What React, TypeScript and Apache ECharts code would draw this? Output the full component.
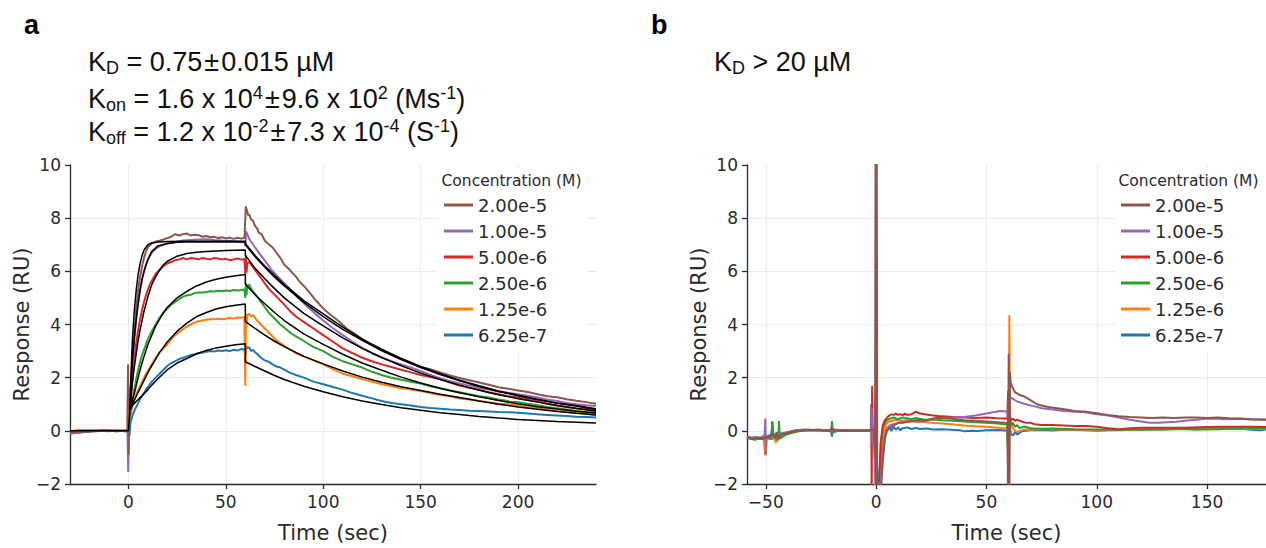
import React, { useEffect, useRef } from 'react';
import * as echarts from 'echarts';

// ---------- labels ----------
const NAMES = ['2.00e-5', '1.00e-5', '5.00e-6', '2.50e-6', '1.25e-6', '6.25e-7'];
const COLORS = ['#8c564b', '#9467bd', '#d62728', '#2ca02c', '#ff7f0e', '#1f77b4'];
const X_TICKS_A = [0, 50, 100, 150, 200];
const X_TICKS_B = [-50, 0, 50, 100, 150];
const LEGEND_TITLE = 'Concentration (M)';

// ---------- panel a : measured sensorgrams [time, response] ----------
const A_BROWN = [[-30,-0.08],[-27,-0.05],[-24,-0.03],[-21,-0.04],[-18,0.01],[-15,-0.01],[-12,0.02],[-9,0.0],[-6,-0.02],[-3,0.01],[-0.5,0.0],[-0.2,2.5],[0.1,-0.9],[0.4,1.0],[1,1.4],[2,2.6],[3,3.6],[4,4.6],[5,5.3],[6,5.8],[7,6.2],[8,6.5],[9,6.75],[10,6.9],[12,7.05],[14,7.12],[16,7.15],[18,7.2],[20,7.25],[22,7.3],[24,7.4],[26,7.35],[28,7.4],[30,7.42],[32,7.35],[34,7.38],[36,7.36],[38,7.3],[40,7.33],[42,7.28],[44,7.3],[46,7.25],[48,7.28],[50,7.24],[52,7.27],[54,7.22],[56,7.26],[58,7.23],[59.6,7.26],[60.2,8.45],[60.8,8.3],[61.5,8.1],[62,8.15],[63,7.95],[64,7.9],[65,7.7],[66,7.62],[67,7.45],[68,7.42],[69,7.3],[70,7.15],[72,7.02],[74,6.9],[76,6.7],[78,6.5],[80,6.25],[82,6.12],[84,5.95],[86,5.8],[88,5.6],[90,5.45],[93,5.2],[96,4.92],[100,4.6],[104,4.35],[108,4.12],[112,3.85],[116,3.66],[120,3.45],[125,3.22],[130,3.02],[135,2.86],[140,2.7],[145,2.56],[150,2.4],[155,2.32],[160,2.2],[165,2.08],[170,1.99],[175,1.9],[180,1.82],[185,1.73],[190,1.64],[195,1.58],[200,1.52],[205,1.46],[210,1.38],[215,1.3],[220,1.26],[225,1.19],[230,1.13],[235,1.08],[240,1.02]];
const A_PURPLE = [[-30,-0.1],[-27,-0.07],[-24,-0.05],[-21,-0.03],[-18,-0.02],[-15,0.0],[-12,-0.01],[-9,0.01],[-6,0.0],[-3,-0.01],[-0.5,0.0],[-0.1,-1.55],[0.3,0.4],[1,1.2],[2,2.4],[3,3.4],[4,4.2],[5,4.8],[6,5.3],[7,5.7],[8,6.0],[9,6.25],[10,6.45],[12,6.7],[14,6.85],[16,6.95],[18,7.0],[20,7.05],[24,7.1],[28,7.16],[32,7.18],[36,7.2],[40,7.21],[44,7.18],[48,7.16],[52,7.15],[56,7.12],[59.6,7.1],[60,6.95],[60.4,7.5],[61,7.4],[62,7.22],[64,7.0],[66,6.8],[68,6.6],[70,6.4],[73,6.1],[76,5.85],[80,5.55],[84,5.25],[88,4.95],[92,4.66],[96,4.4],[100,4.15],[105,3.86],[110,3.6],[115,3.35],[120,3.12],[125,2.92],[130,2.76],[135,2.62],[140,2.5],[145,2.38],[150,2.25],[155,2.1],[160,1.98],[165,1.88],[170,1.78],[175,1.7],[180,1.62],[185,1.55],[190,1.48],[195,1.43],[200,1.38],[205,1.32],[210,1.25],[215,1.18],[220,1.12],[225,1.05],[230,1.0],[235,0.96],[240,0.93]];
const A_RED = [[-30,-0.06],[-26,-0.04],[-22,0.01],[-18,-0.02],[-14,0.02],[-10,-0.01],[-6,0.01],[-2,-0.02],[-0.3,0.0],[0,0.2],[0.5,0.6],[1,1.0],[2,1.9],[3,2.7],[4,3.3],[5,3.8],[6,4.2],[7,4.55],[8,4.85],[9,5.1],[10,5.3],[11,5.5],[12,5.65],[14,5.9],[16,6.05],[18,6.2],[20,6.3],[22,6.35],[24,6.42],[26,6.45],[28,6.5],[30,6.45],[32,6.5],[34,6.48],[36,6.45],[38,6.5],[40,6.47],[42,6.45],[44,6.5],[46,6.48],[48,6.45],[50,6.47],[52,6.42],[54,6.45],[56,6.48],[58,6.44],[59.5,6.46],[60,5.9],[60.3,6.6],[60.6,5.95],[61,6.3],[62,6.35],[63,6.25],[64,6.15],[66,5.95],[68,5.75],[70,5.55],[72,5.35],[74,5.2],[76,5.05],[78,4.9],[80,4.75],[83,4.5],[86,4.3],[90,4.1],[95,3.85],[100,3.6],[105,3.35],[110,3.1],[115,2.92],[120,2.75],[125,2.62],[130,2.5],[135,2.4],[140,2.3],[145,2.2],[150,2.1],[155,2.02],[160,1.95],[165,1.82],[170,1.7],[175,1.62],[180,1.55],[185,1.45],[190,1.38],[195,1.3],[200,1.25],[205,1.18],[210,1.1],[215,1.02],[220,0.95],[225,0.9],[230,0.85],[235,0.82],[240,0.78]];
const A_GREEN = [[-30,-0.1],[-26,-0.07],[-22,-0.04],[-18,-0.02],[-14,-0.01],[-10,0.0],[-6,-0.02],[-2,0.0],[-0.3,-0.05],[0,0.1],[0.5,0.4],[1,0.6],[2,1.1],[3,1.55],[4,1.95],[5,2.3],[6,2.6],[7,2.85],[8,3.05],[9,3.25],[10,3.45],[12,3.75],[14,4.0],[16,4.25],[18,4.45],[20,4.6],[22,4.75],[24,4.85],[26,4.95],[28,5.05],[30,5.1],[32,5.12],[34,5.18],[36,5.2],[38,5.2],[40,5.22],[42,5.25],[44,5.24],[46,5.27],[48,5.25],[50,5.28],[52,5.26],[54,5.3],[56,5.28],[58,5.3],[59.5,5.32],[60,5.0],[60.3,5.55],[60.6,5.1],[61,5.45],[62,5.5],[63,5.35],[64,5.25],[65,5.15],[66,5.05],[68,4.85],[70,4.65],[72,4.45],[74,4.3],[76,4.15],[78,4.0],[80,3.88],[83,3.7],[86,3.55],[90,3.38],[95,3.15],[100,3.0],[105,2.78],[110,2.62],[115,2.5],[120,2.38],[125,2.22],[130,2.1],[135,2.0],[140,1.92],[145,1.85],[150,1.78],[155,1.68],[160,1.6],[165,1.52],[170,1.45],[175,1.38],[180,1.3],[185,1.25],[190,1.18],[195,1.12],[200,1.08],[205,1.02],[210,0.96],[215,0.9],[220,0.85],[225,0.8],[230,0.75],[235,0.7],[240,0.67]];
const A_ORANGE = [[-30,-0.02],[-26,0.04],[-22,0.02],[-18,0.03],[-14,0.0],[-10,0.02],[-6,-0.01],[-2,0.01],[-0.5,0.0],[-0.2,1.7],[0.1,0.3],[0.4,0.7],[1,0.6],[2,0.9],[3,1.15],[4,1.35],[5,1.55],[6,1.7],[7,1.85],[8,2.0],[9,2.15],[10,2.25],[12,2.5],[14,2.75],[16,2.95],[18,3.1],[20,3.25],[22,3.45],[24,3.6],[26,3.72],[28,3.82],[30,3.92],[32,4.0],[34,4.08],[36,4.12],[38,4.15],[40,4.18],[42,4.2],[44,4.2],[46,4.22],[48,4.2],[50,4.22],[52,4.25],[54,4.22],[56,4.26],[58,4.25],[59.5,4.28],[60,1.7],[60.3,4.4],[60.6,3.9],[61,4.35],[62,4.4],[63,4.3],[64,4.35],[65,4.25],[66,4.15],[68,4.0],[70,3.85],[72,3.7],[74,3.55],[76,3.4],[78,3.3],[80,3.2],[83,3.05],[86,2.92],[90,2.8],[95,2.65],[100,2.5],[105,2.32],[110,2.15],[115,2.05],[120,1.95],[125,1.85],[130,1.75],[135,1.68],[140,1.6],[145,1.55],[150,1.5],[155,1.42],[160,1.35],[165,1.3],[170,1.22],[175,1.18],[180,1.12],[185,1.08],[190,1.02],[195,1.0],[200,0.96],[205,0.9],[210,0.86],[215,0.8],[220,0.76],[225,0.72],[230,0.68],[235,0.64],[240,0.6]];
const A_BLUE = [[-30,-0.06],[-26,-0.05],[-22,-0.03],[-18,-0.01],[-14,0.0],[-10,-0.02],[-6,0.01],[-2,-0.01],[-0.3,0.0],[0,0.0],[0.5,-0.2],[1,0.3],[2,0.55],[3,0.75],[4,0.9],[5,1.05],[6,1.2],[7,1.3],[8,1.42],[9,1.55],[10,1.65],[12,1.85],[14,2.0],[16,2.15],[18,2.3],[20,2.45],[22,2.55],[24,2.62],[26,2.7],[28,2.75],[30,2.8],[32,2.85],[34,2.88],[36,2.92],[38,2.95],[40,2.97],[42,3.0],[44,2.98],[46,3.02],[48,3.0],[50,3.03],[52,3.0],[54,3.05],[56,3.02],[58,3.08],[59.5,3.05],[60,2.8],[60.5,3.2],[61,3.1],[62,3.15],[63,3.0],[64,3.05],[65,2.95],[66,2.9],[68,2.75],[70,2.65],[72,2.6],[74,2.5],[76,2.42],[78,2.38],[80,2.3],[83,2.18],[86,2.1],[90,2.0],[95,1.85],[100,1.75],[105,1.65],[110,1.55],[115,1.42],[120,1.32],[125,1.22],[130,1.12],[135,1.05],[140,1.0],[145,0.95],[150,0.9],[155,0.86],[160,0.83],[165,0.8],[170,0.78],[175,0.76],[180,0.75],[185,0.73],[190,0.71],[195,0.7],[200,0.68],[205,0.65],[210,0.62],[215,0.6],[220,0.58],[225,0.56],[230,0.53],[235,0.52],[240,0.5]];

// ---------- panel a : fitted curves [time, response] ----------
const FIT_1 = [[-30,0],[0,0],[0.8,0.8],[1,1.6],[2,3.4],[3,4.5],[4,5.3],[5,5.9],[6,6.3],[7,6.6],[8,6.8],[10,7.0],[12,7.07],[15,7.1],[20,7.12],[30,7.13],[40,7.13],[50,7.13],[60,7.13],[60,7.05],[65,6.6],[70,6.2],[75,5.85],[80,5.5],[90,4.9],[100,4.4],[110,3.9],[120,3.45],[130,3.07],[140,2.72],[150,2.42],[160,2.15],[170,1.9],[180,1.7],[190,1.5],[200,1.34],[210,1.19],[220,1.05],[230,0.94],[240,0.83]];
const FIT_2 = [[0.8,0.8],[1,1.0],[2,2.6],[3,3.5],[4,4.2],[5,4.8],[6,5.3],[7,5.7],[8,6.0],[10,6.45],[12,6.75],[15,6.95],[20,7.05],[25,7.09],[30,7.1],[40,7.1],[50,7.1],[60,7.1],[60,7.0],[65,6.55],[70,6.15],[75,5.78],[80,5.45],[90,4.83],[100,4.3],[110,3.82],[120,3.4],[130,3.02],[140,2.68],[150,2.38],[160,2.12],[170,1.88],[180,1.67],[190,1.48],[200,1.32],[210,1.17],[220,1.04],[230,0.93],[240,0.8]];
const FIT_3 = [[0.8,0.8],[2,1.8],[3,2.4],[4,2.9],[5,3.4],[6,3.8],[7,4.15],[8,4.5],[10,5.05],[12,5.5],[14,5.8],[16,6.05],[18,6.25],[20,6.38],[25,6.57],[30,6.67],[35,6.72],[40,6.75],[50,6.78],[60,6.8],[60,6.6],[65,6.12],[70,5.72],[75,5.35],[80,5.0],[90,4.42],[100,3.95],[110,3.5],[120,3.1],[130,2.76],[140,2.45],[150,2.17],[160,1.93],[170,1.72],[180,1.53],[190,1.36],[200,1.21],[210,1.08],[220,0.95],[230,0.84],[240,0.74]];
const FIT_4 = [[0.8,0.8],[2,1.15],[3,1.4],[4,1.7],[5,2.0],[6,2.3],[7,2.55],[8,2.8],[10,3.25],[12,3.6],[14,3.95],[16,4.2],[18,4.45],[20,4.65],[25,5.0],[30,5.25],[35,5.45],[40,5.6],[45,5.7],[50,5.78],[55,5.83],[60,5.88],[60,5.52],[65,5.12],[70,4.78],[75,4.45],[80,4.15],[90,3.65],[100,3.25],[110,2.88],[120,2.55],[130,2.28],[140,2.02],[150,1.8],[160,1.6],[170,1.43],[180,1.28],[190,1.14],[200,1.02],[210,0.91],[220,0.82],[230,0.74],[240,0.67]];
const FIT_5 = [[0.8,0.8],[2,1.0],[3,1.15],[4,1.3],[5,1.45],[6,1.6],[8,1.9],[10,2.2],[12,2.45],[14,2.7],[16,2.95],[18,3.15],[20,3.35],[25,3.75],[30,4.05],[35,4.3],[40,4.45],[45,4.58],[50,4.67],[55,4.72],[60,4.77],[60,4.12],[65,3.85],[70,3.6],[75,3.37],[80,3.17],[90,2.8],[100,2.52],[110,2.25],[120,2.02],[130,1.83],[140,1.66],[150,1.52],[160,1.38],[170,1.25],[180,1.12],[190,1.0],[200,0.9],[210,0.81],[220,0.73],[230,0.66],[240,0.6]];
const FIT_6 = [[0.8,0.8],[2,0.95],[4,1.1],[6,1.25],[8,1.4],[10,1.55],[12,1.72],[15,1.95],[20,2.3],[25,2.55],[30,2.72],[35,2.9],[40,3.02],[45,3.12],[50,3.18],[55,3.24],[60,3.28],[60,2.6],[65,2.42],[70,2.25],[75,2.08],[80,1.93],[90,1.68],[100,1.47],[110,1.28],[120,1.12],[130,0.99],[140,0.87],[150,0.77],[160,0.68],[170,0.61],[180,0.54],[190,0.48],[200,0.43],[210,0.39],[220,0.35],[230,0.32],[240,0.29]];

// ---------- panel b : measured sensorgrams [time, response] ----------
const B_BROWN = [[-58.5,-0.25],[-56,-0.3],[-54,-0.27],[-52,-0.28],[-50,-0.25],[-48,-0.22],[-47,-0.1],[-46,-0.25],[-45,-0.05],[-44.5,-0.28],[-43,-0.15],[-41,-0.1],[-38,-0.03],[-35,0.0],[-32,0.02],[-29,0.03],[-26,0.02],[-23,0.01],[-21,0.0],[-20,0.12],[-19,-0.05],[-18,0.05],[-16,0.0],[-13,0.01],[-10,0.0],[-7,0.01],[-4,0.0],[-1,0.05],[-0.5,-1],[-0.2,12],[0.1,-5],[0.3,11],[0.6,-6],[1,-4],[2,-2.5],[3,-1.2],[4,-0.3],[5,0.0],[6,0.1],[8,0.2],[10,0.3],[12,0.3],[15,0.35],[18,0.4],[20,0.42],[22,0.38],[25,0.45],[28,0.5],[30,0.48],[35,0.45],[40,0.4],[45,0.38],[50,0.35],[55,0.32],[58,0.3],[59.5,0.3],[59.8,-2.5],[60.1,2.9],[60.4,-3],[60.7,2.2],[61,1.8],[62,1.6],[63,1.45],[64,1.4],[65,1.35],[67,1.3],[69,1.2],[71,1.1],[73,1.0],[75,0.95],[78,0.9],[82,0.85],[86,0.8],[90,0.75],[95,0.72],[100,0.66],[105,0.6],[110,0.55],[115,0.52],[120,0.5],[125,0.48],[130,0.5],[135,0.48],[140,0.5],[145,0.5],[150,0.48],[155,0.5],[160,0.47],[165,0.46],[170,0.44],[177,0.42]];
const B_PURPLE = [[-58.5,-0.25],[-56,-0.28],[-54,-0.24],[-52,-0.27],[-50.5,-0.15],[-50.2,0.45],[-49.9,-0.9],[-49.5,-0.2],[-48,-0.22],[-46,-0.2],[-44,-0.15],[-42,-0.08],[-39,-0.02],[-36,0.03],[-33,0.02],[-30,0.04],[-27,0.02],[-24,0.03],[-21,0.01],[-18,0.0],[-15,0.02],[-12,0.0],[-9,0.01],[-6,0.0],[-3,0.02],[-2.3,0.0],[-2,0.9],[-1.6,-0.5],[-1,0.05],[0,-3],[1,-5],[2,-2],[3,-0.8],[4,-0.2],[5,0.1],[6,0.2],[8,0.25],[10,0.3],[12,0.32],[15,0.35],[20,0.35],[25,0.42],[30,0.48],[35,0.5],[40,0.52],[45,0.58],[50,0.65],[53,0.7],[56,0.75],[58,0.74],[59.5,0.72],[60,0.5],[60.3,1.8],[60.6,1.3],[61,1.25],[62,1.2],[63,1.15],[64,1.1],[66,1.05],[68,1.0],[70,0.95],[72,0.92],[75,0.85],[80,0.8],[85,0.75],[90,0.72],[95,0.7],[100,0.62],[105,0.58],[110,0.5],[115,0.42],[120,0.35],[124,0.3],[128,0.3],[132,0.32],[136,0.34],[140,0.38],[145,0.42],[150,0.46],[155,0.45],[160,0.44],[165,0.45],[170,0.43],[177,0.43]];
const B_RED = [[-58.5,-0.22],[-56,-0.27],[-54,-0.25],[-52,-0.28],[-50,-0.22],[-48,-0.2],[-46,-0.18],[-44,-0.15],[-42,-0.1],[-39,-0.05],[-36,0.0],[-33,0.02],[-30,0.03],[-27,0.02],[-24,0.02],[-21,0.0],[-18,0.01],[-15,0.02],[-12,0.0],[-9,0.01],[-6,0.0],[-3,0.02],[-2.4,0.0],[-2.2,1.0],[-2,-2.5],[-1.8,1.7],[-1.5,0.0],[-0.5,0.02],[0,-3],[1,-4],[2,-0.5],[3,0.2],[4,0.4],[5,0.5],[6,0.58],[7,0.62],[8,0.6],[9,0.65],[10,0.6],[11,0.63],[12,0.58],[13,0.65],[14,0.6],[16,0.62],[18,0.72],[19,0.68],[20,0.65],[22,0.62],[24,0.6],[26,0.58],[28,0.56],[30,0.55],[35,0.52],[40,0.5],[45,0.48],[50,0.5],[55,0.47],[58,0.46],[59.5,0.45],[59.8,1.5],[60.1,-2.5],[60.4,0.8],[61,0.4],[62,0.45],[63,0.38],[64,0.42],[66,0.35],[68,0.3],[70,0.3],[72,0.25],[75,0.22],[80,0.22],[85,0.2],[90,0.18],[95,0.18],[100,0.15],[105,0.1],[108,0.08],[110,0.06],[115,0.1],[120,0.12],[130,0.12],[140,0.12],[150,0.14],[160,0.15],[170,0.15],[177,0.14]];
const B_GREEN = [[-58.5,-0.25],[-57,-0.3],[-55,-0.34],[-53,-0.3],[-51,-0.32],[-49,-0.28],[-47.3,-0.3],[-47,0.37],[-46.6,-0.2],[-45,-0.32],[-44.3,-0.35],[-44,0.37],[-43.6,-0.3],[-42,-0.2],[-40,-0.12],[-37,-0.05],[-34,0.0],[-31,0.02],[-28,0.03],[-25,0.01],[-22,0.0],[-20.3,0.0],[-20,0.37],[-19.6,-0.05],[-17,0.0],[-14,0.01],[-11,-0.01],[-8,0.0],[-5,0.01],[-2,0.0],[-0.5,0.05],[0,-1.0],[0.7,-2.5],[1.5,-1.5],[2.5,-0.3],[3,0.1],[4,0.3],[5,0.4],[6,0.45],[8,0.5],[10,0.44],[12,0.5],[14,0.47],[16,0.44],[18,0.48],[20,0.45],[22,0.42],[25,0.43],[30,0.4],[35,0.38],[40,0.35],[45,0.32],[50,0.3],[55,0.28],[58,0.25],[59.5,0.25],[60,-1.5],[60.3,0.8],[61,0.2],[62,0.3],[63,0.15],[64,0.22],[65,0.1],[67,0.16],[70,0.1],[75,0.08],[80,0.09],[90,0.06],[100,0.05],[110,0.04],[120,0.05],[130,0.06],[140,0.06],[150,0.05],[160,0.08],[170,0.1],[177,0.1]];
const B_ORANGE = [[-58.5,-0.25],[-57,-0.3],[-55,-0.27],[-53,-0.3],[-51,-0.25],[-50.3,-0.92],[-50,-0.2],[-48,-0.3],[-46,-0.32],[-45.3,-0.45],[-44.8,-0.2],[-42,-0.15],[-39,-0.08],[-36,-0.02],[-33,0.02],[-30,0.03],[-27,0.02],[-24,0.03],[-21,0.02],[-18,0.0],[-15,0.02],[-12,0.0],[-9,0.01],[-6,0.0],[-3,0.02],[-0.8,0.0],[0,-1.5],[0.6,-3],[1.2,-2.2],[2,-1.0],[3,-0.3],[4,0.1],[5,0.3],[6,0.35],[8,0.4],[10,0.42],[12,0.38],[14,0.41],[16,0.38],[18,0.35],[20,0.34],[25,0.3],[30,0.28],[35,0.24],[40,0.2],[45,0.17],[50,0.15],[55,0.12],[58,0.1],[59.5,0.1],[60,-1.5],[60.2,1.0],[60.4,4.35],[60.7,0.5],[62,0.1],[63,0.0],[64,-0.05],[65,0.0],[67,0.05],[70,0.04],[75,0.07],[80,0.05],[90,0.04],[100,0.03],[110,0.02],[120,0.05],[130,0.06],[140,0.08],[150,0.1],[160,0.09],[170,0.08],[177,0.08]];
const B_BLUE = [[-58.5,-0.22],[-57,-0.27],[-55,-0.24],[-53,-0.28],[-51,-0.2],[-49,-0.18],[-47.5,-0.15],[-47,0.33],[-46.6,-0.12],[-45,-0.18],[-43,-0.1],[-41,-0.08],[-38,-0.02],[-35,0.03],[-32,0.05],[-29,0.03],[-26,0.05],[-23,0.02],[-20.5,0.0],[-20,-0.22],[-19.5,0.05],[-17,0.02],[-14,0.0],[-11,0.02],[-8,0.0],[-5,0.01],[-2,0.0],[-0.5,0.05],[0,-0.6],[0.5,-1.8],[1,-2.6],[2,-1.2],[3,-0.3],[4,0.0],[5,0.06],[6,0.12],[7,0.0],[8,0.15],[9,0.05],[10,0.13],[11,0.02],[12,0.1],[14,0.13],[16,0.07],[18,0.11],[20,0.07],[23,0.09],[26,0.05],[30,0.06],[34,0.04],[38,0.02],[40,-0.02],[43,0.0],[46,-0.01],[50,0.02],[54,0.03],[57,0.02],[59.5,0.0],[60,-1.0],[60.4,0.5],[61,-0.1],[62,-0.18],[63,-0.05],[64,-0.14],[66,-0.02],[68,0.0],[70,0.02],[75,0.03],[80,0.01],[85,0.04],[90,0.03],[95,0.02],[100,0.0],[105,0.02],[110,0.03],[115,0.05],[120,0.03],[125,0.06],[130,0.05],[135,0.07],[140,0.08],[145,0.05],[150,0.08],[155,0.06],[160,0.08],[165,0.09],[170,0.04],[174,0.02],[177,0.05]];

const A_SERIES = [A_BROWN, A_PURPLE, A_RED, A_GREEN, A_ORANGE, A_BLUE];
const B_SERIES = [B_BROWN, B_PURPLE, B_RED, B_GREEN, B_ORANGE, B_BLUE];
const FITS = [FIT_1, FIT_2, FIT_3, FIT_4, FIT_5, FIT_6];

const TICK_FONT = 'DejaVu Sans';
const TITLE_FONT = 'Liberation Sans';
const INK = '#2a2a2a';

const minus = (v: number) => String(v).replace('-', '\u2212');

function xAxis(grid: number, min: number, max: number, ticks: number[]) {
  return {
    type: 'value', gridIndex: grid, min, max,
    name: 'Time (sec)', nameLocation: 'middle', nameGap: 38,
    nameTextStyle: { fontFamily: TICK_FONT, fontSize: 21, color: INK },
    axisLine: { show: true, onZero: false, lineStyle: { color: INK, width: 1.3 } },
    axisTick: { show: true, inside: false, length: 5, customValues: ticks, lineStyle: { color: INK, width: 1.3 } },
    axisLabel: { show: true, customValues: ticks, margin: 9, fontFamily: TICK_FONT, fontSize: 17, color: INK, formatter: minus },
    splitLine: { show: true, lineStyle: { color: '#ebebeb', width: 1 } },
  };
}
function yAxis(grid: number) {
  return {
    type: 'value', gridIndex: grid, min: -2, max: 10, interval: 2,
    name: 'Response (RU)', nameLocation: 'middle', nameGap: 37,
    nameTextStyle: { fontFamily: TICK_FONT, fontSize: 21, color: INK },
    axisLine: { show: true, onZero: false, lineStyle: { color: INK, width: 1.3 } },
    axisTick: { show: true, inside: false, length: 5, lineStyle: { color: INK, width: 1.3 } },
    axisLabel: { show: true, margin: 9, fontFamily: TICK_FONT, fontSize: 17, color: INK, formatter: minus },
    splitLine: { show: true, showMaxLine: false, showMinLine: false, lineStyle: { color: '#ebebeb', width: 1 } },
  };
}

function legend(left: number) {
  return {
    data: NAMES, orient: 'vertical', left, top: 195, padding: 0,
    itemWidth: 29, itemHeight: 3, itemGap: 6, icon: 'rect', selectedMode: false,
    textStyle: { fontFamily: TICK_FONT, fontSize: 18, color: INK, lineHeight: 20 },
  };
}

function formula(x: number, y: number, text: string) {
  const base = { fontFamily: TITLE_FONT, fontSize: 27, fill: '#111', lineHeight: 30 };
  return {
    type: 'text', x, y, z: 10,
    style: {
      text, fill: '#111', verticalAlign: 'top', align: 'left',
      rich: {
        b: base,
        pm: { fontFamily: TITLE_FONT, fontSize: 27, fill: '#111', lineHeight: 30, padding: [0, 2, 0, 2] },
        sub: { fontFamily: TITLE_FONT, fontSize: 18, fill: '#111', lineHeight: 16, verticalAlign: 'bottom' },
        sup: { fontFamily: TITLE_FONT, fontSize: 18, fill: '#111', lineHeight: 25, verticalAlign: 'top' },
      },
    },
  };
}

export default function App() {
  const ref = useRef<HTMLDivElement>(null);
  useEffect(() => {
    if (!ref.current) return;
    const chart = echarts.init(ref.current, null, { renderer: 'svg' });
    const series: any[] = [];
    // draw from lowest concentration up, so brown sits on top
    for (let i = NAMES.length - 1; i >= 0; i--) {
      series.push({
        type: 'line', name: NAMES[i], xAxisIndex: 0, yAxisIndex: 0, data: A_SERIES[i],
        showSymbol: false, symbol: 'none', color: COLORS[i], lineStyle: { width: 2, color: COLORS[i] }, z: 2,
      });
    }
    FITS.forEach((f, i) => series.push({
      type: 'line', name: 'fit' + (i + 1), xAxisIndex: 0, yAxisIndex: 0, data: f,
      showSymbol: false, symbol: 'none', color: '#000', lineStyle: { width: 1.5, color: '#000' }, z: 3,
    }));
    for (let i = NAMES.length - 1; i >= 0; i--) {
      series.push({
        type: 'line', name: NAMES[i], xAxisIndex: 1, yAxisIndex: 1, data: B_SERIES[i],
        showSymbol: false, symbol: 'none', color: COLORS[i], lineStyle: { width: 2, color: COLORS[i] }, z: 2,
      });
    }
    const option: any = {
      animation: false,
      backgroundColor: '#ffffff',
      grid: [
        { left: 70, top: 165, width: 526, height: 322 },
        { left: 747, top: 165, width: 519, height: 322 },
      ],
      xAxis: [xAxis(0, -30, 240, X_TICKS_A), xAxis(1, -58.5, 176.7, X_TICKS_B)],
      yAxis: [yAxis(0), yAxis(1)],
      legend: [legend(444), legend(1121)],
      series,
      graphic: [
        { type: 'rect', z: 1, shape: { x: 438, y: 168, width: 150, height: 185 }, style: { fill: '#fff' } },
        { type: 'rect', z: 1, shape: { x: 1115, y: 168, width: 151, height: 185 }, style: { fill: '#fff' } },
        { type: 'text', z: 10, x: 441.5, y: 181, style: { text: LEGEND_TITLE, fontFamily: TICK_FONT, fontSize: 15.5, fill: INK, verticalAlign: 'middle' } },
        { type: 'text', z: 10, x: 1118.5, y: 181, style: { text: LEGEND_TITLE, fontFamily: TICK_FONT, fontSize: 15.5, fill: INK, verticalAlign: 'middle' } },
        { type: 'text', z: 10, x: 24, y: 25, style: { text: 'a', fontFamily: TITLE_FONT, fontWeight: 'bold', fontSize: 27, fill: '#000', verticalAlign: 'middle' } },
        { type: 'text', z: 10, x: 651, y: 25, style: { text: 'b', fontFamily: TITLE_FONT, fontWeight: 'bold', fontSize: 27, fill: '#000', verticalAlign: 'middle' } },
        formula(88, 47, '{b|K}{sub|D}{b| = 0.75}{pm|±}{b|0.015 µM}'),
        formula(88, 84, '{b|K}{sub|on}{b| = 1.6 x 10}{sup|4}{pm|±}{b|9.6 x 10}{sup|2}{b| (Ms}{sup|-1}{b|)}'),
        formula(88, 117, '{b|K}{sub|off}{b| = 1.2 x 10}{sup|-2}{pm|±}{b|7.3 x 10}{sup|-4}{b| (S}{sup|-1}{b|)}'),
        formula(714, 47, '{b|K}{sub|D}{b| > 20 µM}'),
      ],
    };
    chart.setOption(option);
    return () => chart.dispose();
  }, []);
  return <div ref={ref} style={{ position: 'fixed', left: 0, top: 0, width: 1266, height: 548, background: '#fff' }} />;
}
